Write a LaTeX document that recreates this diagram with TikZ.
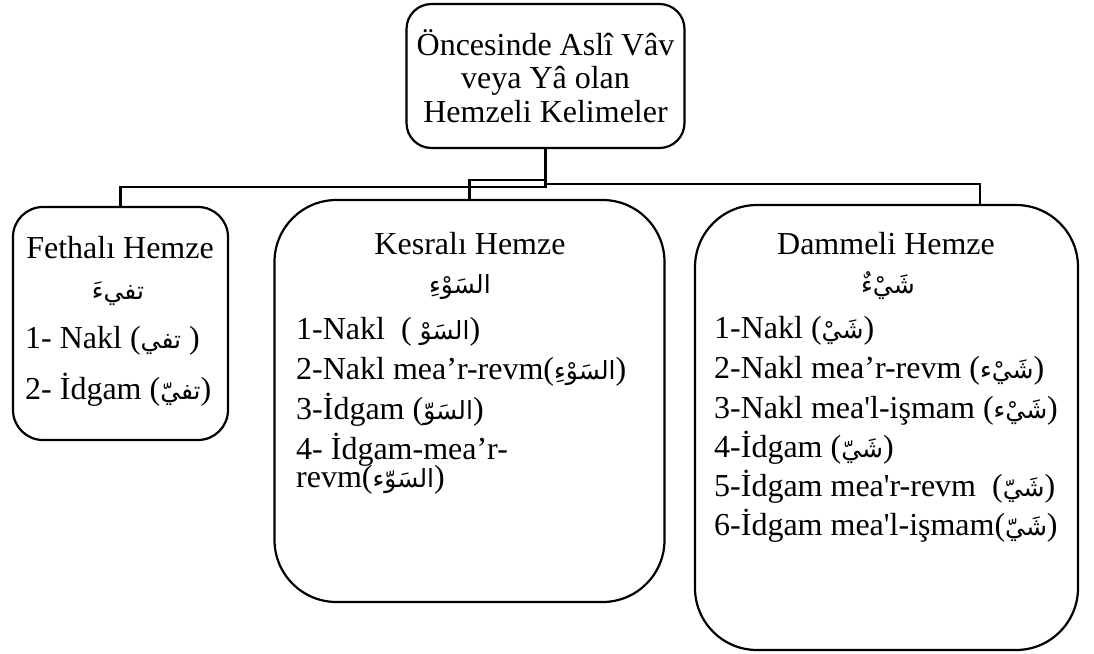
\documentclass[tikz,border=0pt]{standalone}
\usepackage{fontspec}
\setmainfont{Liberation Serif}
\newfontfamily\plainserif{Liberation Serif}
\newfontfamily\arabicfont[Script=Arabic]{DejaVu Sans}
\TeXXeTstate=1
% straight apostrophe (no TeX quote mapping)
\newcommand\sq{{\plainserif'}}
% Arabic word, right to left
\newcommand\artxt[1]{{\arabicfont\fontsize{25}{28}\selectfont\beginR #1\endR}}
\begin{document}
\begin{tikzpicture}[x=1pt,y=-1pt,
  every node/.style={font=\fontsize{32}{33.5}\selectfont},
  box/.style={draw, line width=2.2pt, inner sep=0pt},
  conn/.style={line width=2.2pt},
  item/.style={inner sep=0pt, anchor=base west},
  title/.style={inner sep=0pt, anchor=base}]
\useasboundingbox (0,0) rectangle (1094,653);

% boxes
\node[box, rounded corners=25pt, minimum width=278pt, minimum height=144pt, align=center]
  (top) at (545.5,76) {Öncesinde Aslî Vâv\\veya Yâ olan\\Hemzeli Kelimeler};
\node[box, rounded corners=30pt, minimum width=215pt, minimum height=233pt] (left) at (120.5,323.5) {};
\node[box, rounded corners=62pt, minimum width=390pt, minimum height=402pt] (mid) at (469.5,401) {};
\node[box, rounded corners=62pt, minimum width=383pt, minimum height=445pt] (right) at (886.5,427.5) {};

% connectors
\coordinate (hubL) at (545.5,187);
\coordinate (hubM) at (545.5,180);
\coordinate (hubR) at (545.5,184);
\coordinate (dropR) at (980,184);
\draw[conn] (top.south) -- (hubL) -| (left.north);
\draw[conn] (mid.north) |- (hubM) -- (hubL);
\draw[conn] (hubR) -- (dropR) -- (dropR |- right.north);

% Fethali Hemze
\node[title] (l0) at (120,258) {Fethalı Hemze};
\node[title] (l1) at (118,299) {\artxt{تفيءَ}};
\node[item] (l2) at (25,348) {1- Nakl (\artxt{تفي} )};
\node[item] (l3) at (25,399) {2- İdgam (\artxt{تفيّ})};

% Kesrali Hemze
\node[title] (m0) at (470,254) {Kesralı Hemze};
\node[title] (m1) at (460,293) {\artxt{السَوْءِ}};
\node[item] (m2) at (296,339) {1-Nakl\ \ ( \artxt{السَوْ})};
\node[item] (m3) at (296,379) {2-Nakl mea’r-revm(\artxt{السَوْءِ})};
\node[item] (m4) at (296,419) {3-İdgam (\artxt{السَوّ})};
\node[item] (m5) at (296,459) {4- İdgam-mea’r-};
\node[item] (m6) at (296,487) {revm(\artxt{السَوّء})};

% Dammeli Hemze
\node[title] (r0) at (886,254) {Dammeli Hemze};
\node[title] (r1) at (888,293) {\artxt{شَيْءٌ}};
\node[item] (r2) at (714,338) {1-Nakl (\artxt{شَيْ})};
\node[item] (r3) at (714,378) {2-Nakl mea’r-revm (\artxt{شَيْء})};
\node[item] (r4) at (714,418) {3-Nakl mea\sq l-işmam (\artxt{شَيْء})};
\node[item] (r5) at (714,457) {4-İdgam (\artxt{شَيّ})};
\node[item] (r6) at (714,496) {5-İdgam mea\sq r-revm\ \ (\artxt{شَيّ})};
\node[item] (r7) at (714,535) {6-İdgam mea\sq l-işmam(\artxt{شَيّ})};
\end{tikzpicture}
\end{document}
